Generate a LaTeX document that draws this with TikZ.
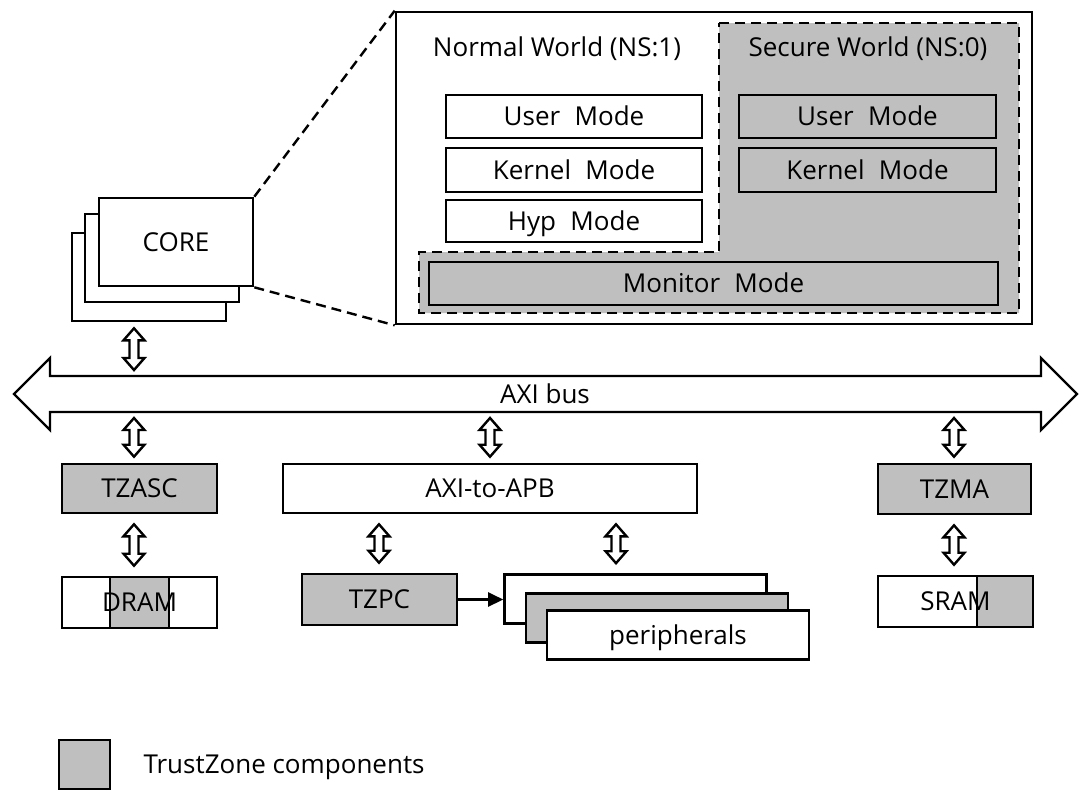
\documentclass[tikz,border=0pt]{standalone}
\usepackage{fontspec}
\setmainfont{Open Sans}
\usetikzlibrary{arrows.meta,calc}
\definecolor{tzgray}{RGB}{191,191,191}

% hollow up/down arrow: [gap]{x}{upper anchor}{lower anchor}
\newcommand{\biarrow}[4][6]{%
  \draw[biarr] let \p1=(#3), \p2=(#4) in
    ({#2pt},{\y1-#1pt}) -- ({#2pt+10.5pt},{\y1-#1pt-12pt})
    -- ({#2pt+4.5pt},{\y1-#1pt-12pt}) -- ({#2pt+4.5pt},{\y2+#1pt+12pt})
    -- ({#2pt+10.5pt},{\y2+#1pt+12pt}) -- ({#2pt},{\y2+#1pt})
    -- ({#2pt-10.5pt},{\y2+#1pt+12pt}) -- ({#2pt-4.5pt},{\y2+#1pt+12pt})
    -- ({#2pt-4.5pt},{\y1-#1pt-12pt}) -- ({#2pt-10.5pt},{\y1-#1pt-12pt})
    -- cycle;}
% wide gap between words of a mode name
\newcommand{\wsp}{\hspace{0.55em}}

\begin{document}
\begin{tikzpicture}[x=1pt,y=-1pt,
  font=\fontsize{26}{31}\selectfont,
  box/.style={draw,line width=2.6pt,fill=white,inner sep=0pt,
    text height=18.5pt,text depth=0pt},
  tz/.style={box,fill=tzgray},
  frame/.style={box,fill=none},
  zone/.style={draw,line width=2.4pt,dash pattern=on 10pt off 6pt},
  biarr/.style={draw,fill=white,line width=2.4pt,line join=miter}]
  \useasboundingbox (0,0) rectangle (1091,790);
  % core stack
  \node[box,minimum width=154,minimum height=88] (core1) at (149,277) {};
  \node[box,minimum width=154,minimum height=88] (core2) at (162,258) {};
  \node[box,minimum width=154,minimum height=88] (core3) at (176,242) {CORE};
  % zoomed view of a core
  \node[box,minimum width=636,minimum height=312] (world) at (714,168) {};
  \draw[zone] (core3.north east) -- (world.north west);
  \draw[zone] (core3.south east) -- (world.south west);
  \draw[zone,fill=tzgray] (719,23) -- (1019,23) -- (1019,313) -- (419,313)
    -- (419,252) -- (719,252) -- cycle;
  \node[frame,draw=none] (normal) at (557,47) {Normal World (NS:1)};
  \node[frame,draw=none] (secure) at (868,47) {Secure World (NS:0)};
  \node[box,minimum width=256,minimum height=43] (nuser) at (574,116.5) {User\wsp Mode};
  \node[box,minimum width=256,minimum height=44] (nkern) at (574,170) {Kernel\wsp Mode};
  \node[box,minimum width=256,minimum height=42] (nhyp) at (574,221) {Hyp\wsp Mode};
  \node[tz,minimum width=257,minimum height=43] (suser) at (867.5,116.5) {User\wsp Mode};
  \node[tz,minimum width=257,minimum height=44] (skern) at (867.5,170) {Kernel\wsp Mode};
  \node[tz,minimum width=569,minimum height=43] (mon) at (713.5,283.5) {Monitor\wsp Mode};
  % system bus
  \draw[biarr] (14,394) -- (50,358) -- (50,376) -- (1041,376) -- (1041,358)
    -- (1077,394) -- (1041,430) -- (1041,412) -- (50,412) -- (50,430) -- cycle;
  \node (bus) at (545,394) {AXI bus};
  \coordinate (bustop) at (545,376);
  \coordinate (busbot) at (545,412);
  % controllers
  \node[tz,minimum width=155,minimum height=49] (tzasc) at (139.5,488.5) {TZASC};
  \node[box,minimum width=414,minimum height=49] (apb) at (490,488.5) {AXI-to-APB};
  \node[tz,minimum width=153,minimum height=50] (tzma) at (954.5,489) {TZMA};
  % memories and peripherals
  \draw[tz] (110,577) rectangle (169,628);
  \node[frame,minimum width=155,minimum height=51] (dram) at (139.5,602.5) {DRAM};
  \draw[tz] (977,576) rectangle (1033,627);
  \node[frame,minimum width=155,minimum height=51] (sram) at (955.5,601.5) {SRAM};
  \node[tz,minimum width=155,minimum height=51] (tzpc) at (379.5,599.5) {TZPC};
  \node[box,minimum width=262,minimum height=49] (periph1) at (635.5,599) {};
  \node[tz,minimum width=262,minimum height=49] (periph2) at (657,618) {};
  \node[box,minimum width=262,minimum height=49] (periph3) at (678,635) {peripherals};
  \draw[line width=2.4pt,-{Triangle[length=15pt,width=14pt]}]
    (tzpc.east) -- (tzpc.east -| periph1.west);
  % hollow arrows
  \biarrow{134}{core1.south}{bustop}
  \biarrow{134}{busbot}{tzasc.north}
  \biarrow{490}{busbot}{apb.north}
  \biarrow{954}{busbot}{tzma.north}
  \biarrow[10]{134}{tzasc.south}{dram.north}
  \biarrow[10]{379}{apb.south}{tzpc.north}
  \biarrow[10]{616}{apb.south}{periph1.north}
  \biarrow[10]{954}{tzma.south}{sram.north}
  % legend
  \node[tz,minimum width=51,minimum height=49] (legbox) at (84.5,764.5) {};
  \node[anchor=west,text height=18.5pt,text depth=0pt] (legtxt) at (140,764) {TrustZone components};
\end{tikzpicture}
\end{document}
